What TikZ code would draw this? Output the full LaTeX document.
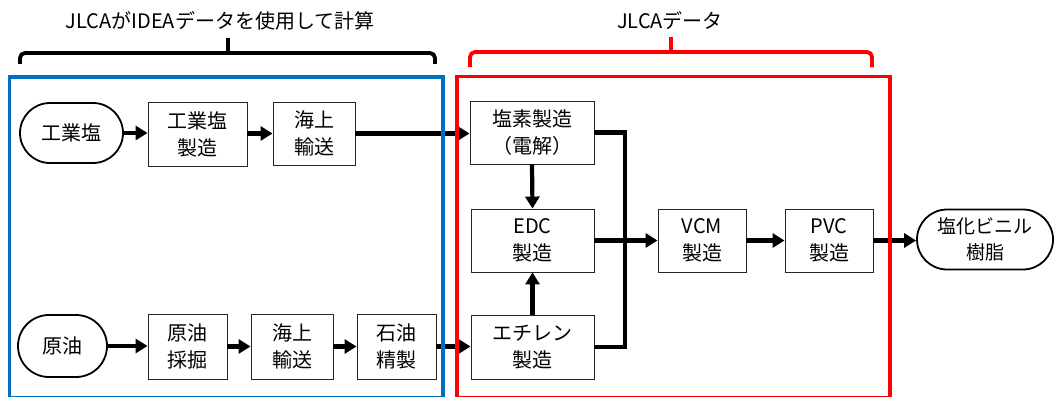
\documentclass[tikz,border=0pt]{standalone}
\usepackage{fontspec}
\setmainfont{Noto Sans CJK JP}
\usetikzlibrary{shapes.misc,arrows.meta}
\definecolor{frameblue}{RGB}{0,112,192}
\definecolor{framered}{RGB}{255,0,0}
\begin{document}
\begin{tikzpicture}[x=1pt,y=-1pt,
  box/.style={draw=black!85, line width=0.9pt, inner sep=0pt, align=center,
    font=\fontsize{20}{27}\selectfont},
  term/.style={rounded rectangle, draw=black, line width=1.8pt, inner sep=0pt,
    align=center, font=\fontsize{20}{27}\selectfont},
  flow/.style={line width=4.2pt},
  arr/.style={line width=4.2pt, -{Triangle[length=12pt,width=14pt]}},
  brace/.style={line width=3.8pt, rounded corners=5pt},
  title/.style={font=\fontsize{20}{24}\selectfont, inner sep=0pt}
]
\useasboundingbox (0,0) rectangle (1054,396);

% titles
\node[title] (t1) at (220,21) {JLCAがIDEAデータを使用して計算};
\node[title] (t2) at (670,21) {JLCAデータ};

% braces
\draw[brace] (20,64) -- (20,53) -- (435,53) -- (435,64);
\draw[line width=3.8pt] (228,54) -- (228,38);
\draw[brace, draw=framered] (470,67) -- (470,52) -- (872,52) -- (872,67);
\draw[line width=3.8pt, draw=framered] (671,53) -- (671,37);

% top row
\node[term, minimum width=103pt, minimum height=60pt] (shio) at (71.5,133) {工業塩};
\node[box, minimum width=99pt, minimum height=64pt] (shioP) at (197.5,134) {工業塩\\製造};
\node[box, minimum width=82pt, minimum height=63pt] (kaijo1) at (314,133.5) {海上\\輸送};

% red area
\node[box, minimum width=124pt, minimum height=63pt] (enso) at (532,132.5) {塩素製造\\（電解）};
\node[box, minimum width=123pt, minimum height=63pt] (edc) at (532.5,240.5) {EDC\\製造};
\node[box, minimum width=123pt, minimum height=64pt] (eth) at (532.5,347) {エチレン\\製造};
\node[box, minimum width=88pt, minimum height=63pt] (vcm) at (702,240.5) {VCM\\製造};
\node[box, minimum width=88pt, minimum height=63pt] (pvc) at (829,240.5) {PVC\\製造};
\node[term, minimum width=136pt, minimum height=60pt, font=\fontsize{19}{26}\selectfont] (res) at (985,239.5) {塩化ビニル\\樹脂};

% bottom row
\node[term, minimum width=89pt, minimum height=62pt] (genyu) at (62.5,346) {原油};
\node[box, minimum width=79pt, minimum height=65pt] (saiku) at (187.5,346.5) {原油\\採掘};
\node[box, minimum width=82pt, minimum height=65pt] (kaijo2) at (292,346.5) {海上\\輸送};
\node[box, minimum width=79pt, minimum height=65pt] (seisei) at (396.5,346.5) {石油\\精製};

% connectors
\draw[arr] (shio.east) -- (shio.east -| shioP.west);
\draw[arr] (shioP.east |- kaijo1.west) -- (kaijo1.west);
\draw[arr] (kaijo1.east) -- (kaijo1.east -| enso.west);
\draw[arr] (enso.south) -- (edc.north);
\draw[arr] (eth.north) -- (edc.south);
\coordinate (j2) at (625,347);
\draw[flow] (enso.east) -| (j2) -- (eth.east);
\draw[arr] (edc.east) -- (vcm.west);
\draw[arr] (vcm.east) -- (pvc.west);
\draw[arr] (pvc.east) -- (pvc.east -| res.west);
\draw[arr] (genyu.east) -- (genyu.east -| saiku.west);
\draw[arr] (saiku.east) -- (kaijo2.west);
\draw[arr] (kaijo2.east) -- (seisei.west);
\draw[arr] (seisei.east) -- (seisei.east -| eth.west);

% frames
\draw[line width=3.8pt, draw=frameblue] (9.5,397.5) -- (9.5,77) -- (443,77) -- (443,397.5) -- cycle;
\draw[line width=3.8pt, draw=framered] (457,397.5) -- (457,76.5) -- (890,76.5) -- (890,397.5) -- cycle;
\end{tikzpicture}
\end{document}
